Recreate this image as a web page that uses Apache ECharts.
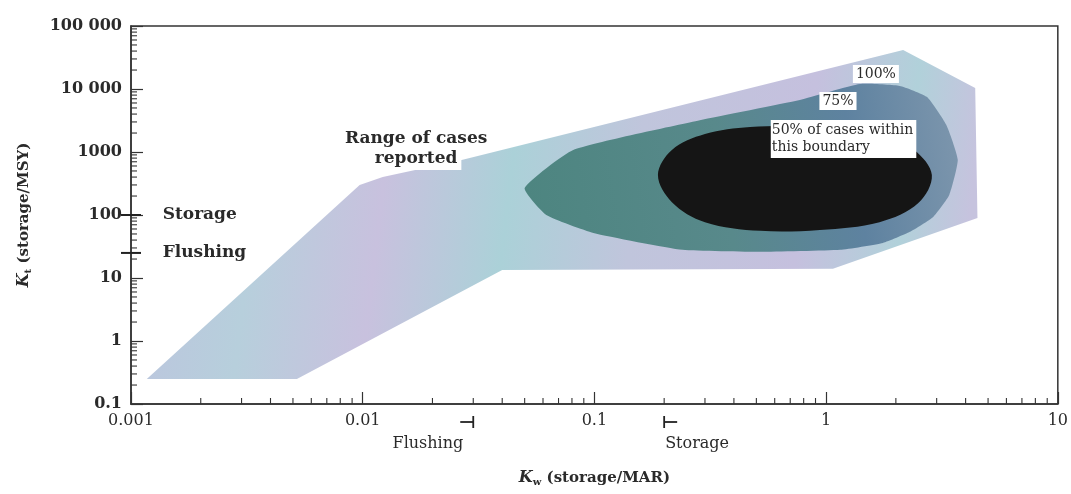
<!DOCTYPE html>
<html><head><meta charset="utf-8">
<script src="https://cdn.jsdelivr.net/npm/echarts@6/dist/echarts.min.js"></script>
<style>html,body{margin:0;padding:0;background:#fff}#c{width:1071px;height:494px}</style>
</head><body><div id="c"></div>
<script>
// ---- data ----
const kwTicks = [0.001, 0.01, 0.1, 1, 10];
const kwTickLabels = ['0.001', '0.01', '0.1', '1', '10'];
const ktTicks = [0.1, 1, 10, 100, 1000, 10000, 100000];
const ktTickLabels = ['0.1', '1', '10', '100', '1000', '10 000', '100 000'];

// Boundary of all reported cases (100%)
const range100 = [[0.00117,0.25],[0.0052,0.25],[0.04,13.4],[1.07,14],[4.5,90],[4.4,10400],[2.15,41600],[0.027,750],[0.0122,400],[0.0097,300]];
// 75% of cases boundary
const cases75 = [[0.05,268],[0.081,1080],[0.285,3200],[0.77,6700],[1.4,12000],[2.08,11200],[2.72,7500],[3.3,2700],[3.7,750],[3.4,207],[2.9,93],[2.3,54],[1.76,36],[1.15,28],[0.52,26],[0.24,28],[0.099,52],[0.062,100]];
// 50% of cases boundary
const cases50 = [[0.188,430],[0.216,1080],[0.30,1930],[0.47,2500],[0.94,2500],[1.7,2000],[2.4,1080],[2.86,430],[2.5,155],[1.7,77],[0.94,58],[0.52,56],[0.30,77],[0.216,160]];

// Regime thresholds
const kwFlushing = 0.03, kwStorage = 0.2;
const ktStorage = 100, ktFlushing = 25;

// Annotations
const noteTexts = ['{a|Range of cases}\n{b|reported}', '100%', '75%', '50% of cases within\nthis boundary', 'Storage', 'Flushing'];
const noteAt = [[0.0170,1117],[1.64,17300],[1.125,6450],[0.577,1610],[0.00137,ktStorage],[0.00137,ktFlushing]];

// ---- chart ----
const FONT = '"DejaVu Serif", "Liberation Serif", serif';
const INK = '#2a2a2a';
const xMin = kwTicks[0], xMax = kwTicks[kwTicks.length-1];
const yMin = ktTicks[0], yMax = ktTicks[ktTicks.length-1];

const xMinor = [], yMinor = [];
kwTicks.slice(0,-1).forEach(d => { for (let m = 2; m <= 9; m++) xMinor.push([d*m, yMin]); });
ktTicks.slice(0,-1).forEach(d => { for (let m = 2; m <= 9; m++) yMinor.push([xMin, d*m]); });

function polySeries(name, pts, fill, smooth, z) {
  return {
    type: 'custom', name: name, data: pts, z: z, silent: true,
    renderItem: function (params, api) {
      if (params.dataIndex !== 0) return null;
      const p = pts.map(d => api.coord(d));
      return { type: 'polygon', shape: { points: p, smooth: smooth }, style: { fill: fill } };
    }
  };
}

const fill100 = new echarts.graphic.LinearGradient(0, 0, 1, 0.3, [
  { offset: 0, color: '#bcc4de' },
  { offset: 0.15, color: '#b7cfdc' },
  { offset: 0.3, color: '#c8c1de' },
  { offset: 0.45, color: '#abd1d8' },
  { offset: 0.6, color: '#c0c5dc' },
  { offset: 0.8, color: '#c5c0de' },
  { offset: 0.92, color: '#b1d1da' },
  { offset: 1, color: '#c6c3de' }
]);
const fill75 = new echarts.graphic.LinearGradient(0, 0.6, 1, 0.2, [
  { offset: 0, color: '#4d8580' },
  { offset: 0.45, color: '#58898b' },
  { offset: 0.75, color: '#5e82a0' },
  { offset: 1, color: '#7d96ad' }
]);

const noteStyles = [
  { align: 'center', rich: {
      a: { font: 'bold 17px ' + FONT, fill: INK, lineHeight: 21 },
      b: { font: 'bold 17px ' + FONT, fill: INK, lineHeight: 21, backgroundColor: '#fff', padding: [1, 4, 3, 4] }
    } },
  { font: '14px ' + FONT, align: 'center', backgroundColor: '#fff', padding: [1, 3], lineHeight: 16 },
  { font: '14px ' + FONT, align: 'center', backgroundColor: '#fff', padding: [1, 3], lineHeight: 16 },
  { font: '14px ' + FONT, align: 'left', backgroundColor: '#fff', padding: [2, 3, 2, 1], lineHeight: 17 },
  { font: 'bold 17px ' + FONT, align: 'left' },
  { font: 'bold 17px ' + FONT, align: 'left' }
];

const option = {
  animation: false,
  backgroundColor: '#fff',
  grid: { left: 131, right: 13, top: 26, bottom: 90, show: true, borderColor: '#333', borderWidth: 1.5, backgroundColor: 'transparent' },
  xAxis: {
    type: 'log', logBase: 10, min: xMin, max: xMax, splitNumber: 4,
    axisLine: { show: true, lineStyle: { color: '#333', width: 1.5 } },
    axisTick: { show: true, inside: true, length: 12, lineStyle: { color: '#333', width: 1.2 } },
    minorTick: { show: false }, splitLine: { show: false },
    axisLabel: {
      margin: 9, fontFamily: FONT, fontSize: 16, color: INK,
      formatter: v => kwTickLabels[Math.round(Math.log10(v)) - Math.round(Math.log10(xMin))] || ''
    },
    name: '{k|K}{s|w}{n| (storage/MAR)}', nameLocation: 'middle', nameGap: 65,
    nameTextStyle: { rich: {
      k: { fontFamily: FONT, fontSize: 16, fontWeight: 'bold', fontStyle: 'italic', color: INK },
      s: { fontFamily: FONT, fontSize: 10, fontWeight: 'bold', color: INK, padding: [8, 0, 0, 0] },
      n: { fontFamily: FONT, fontSize: 15, fontWeight: 'bold', color: INK }
    } }
  },
  yAxis: {
    type: 'log', logBase: 10, min: yMin, max: yMax, splitNumber: 6,
    axisLine: { show: true, lineStyle: { color: '#333', width: 1.5 } },
    axisTick: { show: true, inside: true, length: 12, lineStyle: { color: '#333', width: 1.2 } },
    minorTick: { show: false }, splitLine: { show: false },
    axisLabel: {
      margin: 9, fontFamily: FONT, fontSize: 16, fontWeight: 'bold', color: INK,
      formatter: v => ktTickLabels[Math.round(Math.log10(v)) - Math.round(Math.log10(yMin))] || ''
    },
    name: '{k|K}{s|t}{n| (storage/MSY)}', nameLocation: 'middle', nameGap: 98,
    nameTextStyle: { rich: {
      k: { fontFamily: FONT, fontSize: 16, fontWeight: 'bold', fontStyle: 'italic', color: INK },
      s: { fontFamily: FONT, fontSize: 10, fontWeight: 'bold', color: INK, padding: [8, 0, 0, 0] },
      n: { fontFamily: FONT, fontSize: 15, fontWeight: 'bold', color: INK }
    } }
  },
  series: [
    polySeries('Range of cases reported', range100, fill100, 0, 1),
    polySeries('75%', cases75, fill75, 0.15, 2),
    polySeries('50%', cases50, '#151515', 0.35, 3),
    {
      type: 'custom', name: 'minorX', data: xMinor, z: 5, silent: true,
      renderItem: (params, api) => {
        const p = api.coord([api.value(0), api.value(1)]);
        return { type: 'line', shape: { x1: p[0], y1: p[1], x2: p[0], y2: p[1] - 6 }, style: { stroke: '#333', lineWidth: 1.1 } };
      }
    },
    {
      type: 'custom', name: 'minorY', data: yMinor, z: 5, silent: true,
      renderItem: (params, api) => {
        const p = api.coord([api.value(0), api.value(1)]);
        return { type: 'line', shape: { x1: p[0], y1: p[1], x2: p[0] + 6, y2: p[1] }, style: { stroke: '#333', lineWidth: 1.1 } };
      }
    },
    {
      type: 'custom', name: 'ktMarkers', data: [[xMin, ktStorage], [xMin, ktFlushing]], z: 6, silent: true,
      renderItem: (params, api) => {
        const p = api.coord([api.value(0), api.value(1)]);
        return { type: 'line', shape: { x1: p[0] - 10, y1: p[1], x2: p[0] + 10, y2: p[1] }, style: { stroke: '#222', lineWidth: 2 } };
      }
    },
    {
      type: 'custom', name: 'kwMarkers', data: [[kwFlushing, yMin, -1], [kwStorage, yMin, 1]], z: 6, silent: true, clip: false,
      renderItem: (params, api) => {
        const p = api.coord([api.value(0), api.value(1)]);
        const dir = api.value(2);
        const cy = p[1] + 18;
        return { type: 'group', children: [
          { type: 'line', shape: { x1: p[0], y1: cy - 6, x2: p[0], y2: cy + 6 }, style: { stroke: '#222', lineWidth: 1.8 } },
          { type: 'line', shape: { x1: p[0], y1: cy, x2: p[0] + dir * 13, y2: cy }, style: { stroke: '#222', lineWidth: 1.8 } },
          { type: 'text', x: p[0] + (dir < 0 ? -10 : 1), y: cy + 22,
            style: { text: dir < 0 ? 'Flushing' : 'Storage', font: '16px ' + FONT, fill: INK, align: dir < 0 ? 'right' : 'left', verticalAlign: 'middle' } }
        ] };
      }
    },
    {
      type: 'custom', name: 'notes', data: noteAt, z: 10, silent: true, clip: false,
      renderItem: (params, api) => {
        const p = api.coord([api.value(0), api.value(1)]);
        const s = Object.assign({ text: noteTexts[params.dataIndex], fill: INK, verticalAlign: 'middle' }, noteStyles[params.dataIndex]);
        return { type: 'text', x: p[0], y: p[1], style: s };
      }
    }
  ]
};

const chart = echarts.init(document.getElementById('c'), null, { renderer: 'canvas' });
chart.setOption(option);
</script>
</body></html>
